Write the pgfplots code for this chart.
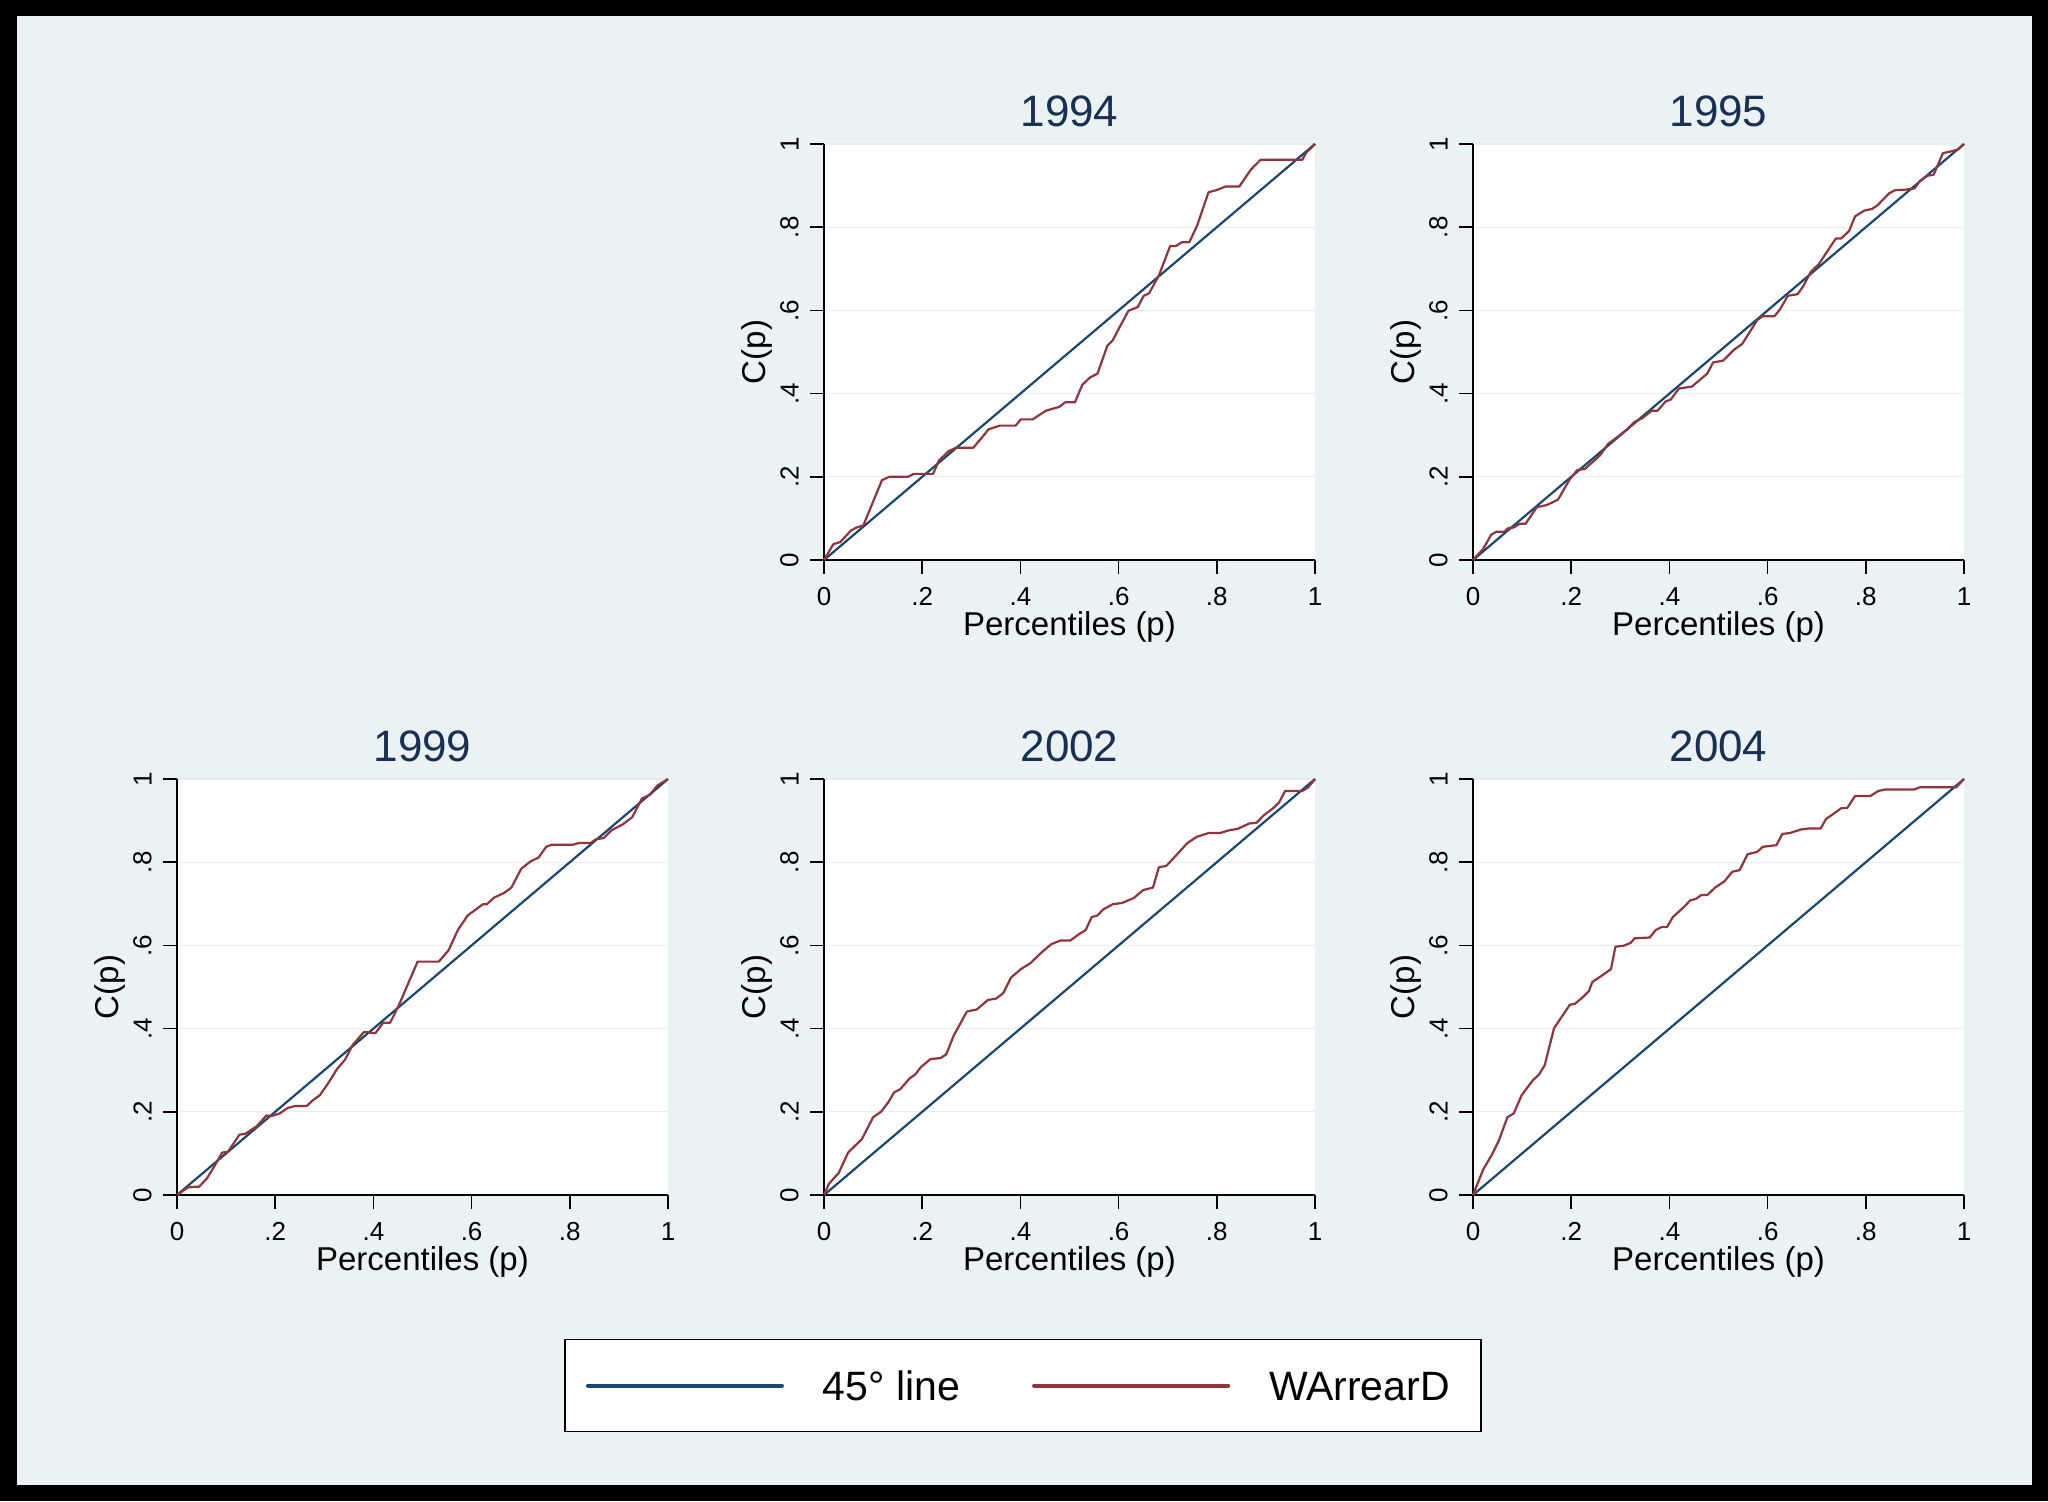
\documentclass[border=0pt]{standalone}
\usepackage{pgfplots}
\pgfplotsset{compat=1.18}
\usepackage{fontspec}
\setmainfont{Liberation Sans}
\definecolor{bgS}{RGB}{234,242,243}
\definecolor{gridS}{RGB}{228,237,239}
\definecolor{navyS}{RGB}{26,71,111}
\definecolor{maroonS}{RGB}{144,53,59}
\definecolor{titleS}{RGB}{26,47,84}

\pgfplotsset{
  panel/.style={
    width=245.5pt, height=208pt, scale only axis,
    xmin=0, xmax=1, ymin=0, ymax=1, enlargelimits=false,
    axis x line=bottom, axis y line=left,
    axis line style={-, line width=0.85pt, black},
    xtick={0,0.2,0.4,0.6,0.8,1}, ytick={0,0.2,0.4,0.6,0.8,1},
    xticklabels={0,.2,.4,.6,.8,1}, yticklabels={0,.2,.4,.6,.8,1},
    tick align=outside, major tick length=7pt,
    tick style={black, line width=0.85pt},
    ticklabel style={font=\fontsize{13}{13}\selectfont},
    xticklabel style={anchor=north, inner sep=0pt, inner ysep=6.5pt},
    yticklabel style={rotate=90, anchor=south, inner sep=0pt, inner ysep=5.5pt},
    ymajorgrids, grid style={gridS, line width=0.6pt},
    axis background/.style={fill=white},
    title style={at={(axis description cs:0.5,1.049)}, anchor=center, yshift=0pt,
      font=\fontsize{22}{22}\selectfont, text=titleS},
    xlabel={Percentiles (p)}, ylabel={C(p)},
    xlabel style={at={(axis description cs:0.5,-0.161)}, anchor=center,
      font=\fontsize{16.5}{16.5}\selectfont},
    ylabel style={at={(axis description cs:-0.1365,0.5)}, anchor=center,
      font=\fontsize{16.5}{16.5}\selectfont},
    clip=false,
  },
  s45/.style={navyS, line width=1.1pt},
  sWA/.style={maroonS, line width=1.1pt, line join=round},
}

\begin{document}
\begin{tikzpicture}
\fill[black] (0pt,0pt) rectangle (1024pt,750.5pt);
\fill[bgS] (8.5pt,8pt) rectangle (1016pt,742.5pt);

% 1994
\begin{axis}[panel, at={(412pt,470.5pt)}, anchor=south west, title={1994}]
\addplot[s45] coordinates {(0,0) (1,1)};
\addplot[sWA] table {
x y
0 0
.019 .038
.033 .043
.055 .071
.066 .078
.08 .083
.094 .123
.118 .192
.133 .200
.171 .200
.183 .207
.222 .207
.234 .239
.253 .261
.269 .270
.304 .270
.320 .292
.335 .314
.358 .323
.39 .323
.401 .338
.425 .338
.452 .359
.479 .368
.491 .379
.511 .379
.526 .421
.542 .439
.557 .448
.577 .515
.588 .528
.604 .564
.62 .599
.639 .608
.651 .635
.662 .641
.682 .684
.705 .755
.717 .755
.729 .764
.744 .764
.76 .804
.783 .884
.799 .889
.818 .898
.846 .898
.869 .938
.889 .962
.974 .962
.982 .979
1 1
};
\end{axis}

% 1995
\begin{axis}[panel, at={(736.5pt,470.5pt)}, anchor=south west, title={1995}]
\addplot[s45] coordinates {(0,0) (1,1)};
\addplot[sWA] table {
x y
0 0
.021 .027
.037 .061
.048 .068
.064 .068
.072 .077
.083 .078
.095 .087
.107 .087
.13 .127
.15 .132
.173 .145
.197 .194
.212 .216
.228 .219
.259 .252
.275 .279
.29 .292
.314 .314
.329 .332
.345 .341
.364 .359
.376 .359
.392 .381
.403 .386
.419 .412
.446 .417
.477 .448
.489 .475
.509 .479
.532 .506
.548 .519
.579 .577
.59 .586
.614 .586
.626 .604
.641 .635
.661 .639
.672 .657
.688 .693
.704 .711
.739 .773
.75 .773
.766 .791
.778 .826
.797 .840
.813 .844
.824 .853
.848 .882
.86 .889
.879 .890
.899 .893
.91 .911
.926 .924
.938 .926
.957 .978
.973 .982
.988 .987
1 1
};
\end{axis}

% 1999
\begin{axis}[panel, at={(88.5pt,153pt)}, anchor=south west, title={1999}]
\addplot[s45] coordinates {(0,0) (1,1)};
\addplot[sWA] table {
x y
0 0
.022 .018
.037 .02
.045 .02
.061 .04
.077 .071
.092 .102
.104 .104
.127 .145
.139 .147
.162 .165
.182 .191
.193 .19
.209 .196
.225 .209
.24 .214
.264 .214
.276 .227
.291 .24
.307 .267
.326 .303
.342 .325
.358 .361
.381 .392
.404 .389
.42 .414
.434 .414
.451 .454
.49 .561
.533 .561
.553 .588
.572 .637
.592 .672
.623 .699
.631 .699
.646 .715
.666 .726
.681 .739
.701 .784
.72 .802
.736 .811
.752 .837
.763 .842
.806 .842
.818 .846
.842 .846
.853 .855
.869 .858
.885 .877
.908 .891
.927 .908
.947 .953
.963 .962
.978 .984
1 1
};
\end{axis}

% 2002
\begin{axis}[panel, at={(412pt,153pt)}, anchor=south west, title={2002},
  legend columns=2,
  legend style={at={(0.405,-0.458)}, anchor=center, draw=black, line width=0.85pt,
    fill=white, inner xsep=10.5pt, inner ysep=15.5pt,
    nodes={inner sep=0pt, text height=15pt, text depth=0pt,
      font=\fontsize{20.5}{20.5}\selectfont},
    cells={anchor=west}},
  legend image code/.code={\draw[#1, line width=2pt, line cap=round] (0pt,0pt) -- (97pt,0pt);},
]
\addplot[s45] coordinates {(0,0) (1,1)};
\addlegendentry{\kern19.5pt 45° line\kern36pt\mbox{}}
\addplot[sWA] table {
x y
0 0
.01 .027
.03 .053
.049 .102
.061 .116
.077 .134
.1 .187
.116 .2
.131 .223
.143 .247
.155 .254
.174 .28
.186 .29
.197 .307
.217 .327
.237 .329
.249 .338
.264 .383
.291 .441
.311 .446
.334 .469
.35 .472
.365 .485
.381 .523
.401 .543
.42 .557
.443 .583
.463 .603
.482 .612
.502 .612
.518 .626
.533 .637
.545 .668
.557 .672
.568 .686
.588 .699
.607 .702
.631 .714
.65 .733
.67 .739
.682 .788
.697 .791
.716 .815
.74 .846
.759 .861
.783 .87
.806 .87
.826 .877
.842 .88
.866 .893
.881 .895
.896 .913
.916 .931
.927 .944
.939 .971
.974 .971
.986 .98
1 1
};
\addlegendentry{\kern19.5pt WArrearD\kern5pt\mbox{}}
\end{axis}

% 2004
\begin{axis}[panel, at={(736.5pt,153pt)}, anchor=south west, title={2004}]
\addplot[s45] coordinates {(0,0) (1,1)};
\addplot[sWA] table {
x y
0 0
.021 .062
.037 .094
.052 .129
.07 .187
.083 .196
.099 .24
.122 .276
.134 .289
.146 .312
.165 .401
.197 .457
.208 .46
.224 .476
.236 .49
.243 .512
.263 .528
.281 .543
.29 .597
.306 .599
.321 .606
.329 .617
.36 .619
.372 .637
.384 .644
.395 .644
.407 .668
.431 .694
.442 .708
.454 .712
.465 .721
.477 .721
.493 .739
.512 .754
.528 .777
.543 .781
.559 .819
.579 .825
.59 .837
.618 .841
.63 .868
.645 .87
.669 .879
.684 .881
.708 .881
.719 .904
.735 .917
.75 .93
.762 .93
.778 .959
.809 .959
.825 .971
.84 .975
.899 .975
.91 .98
.984 .98
1 1
};
\end{axis}
\end{tikzpicture}
\end{document}
